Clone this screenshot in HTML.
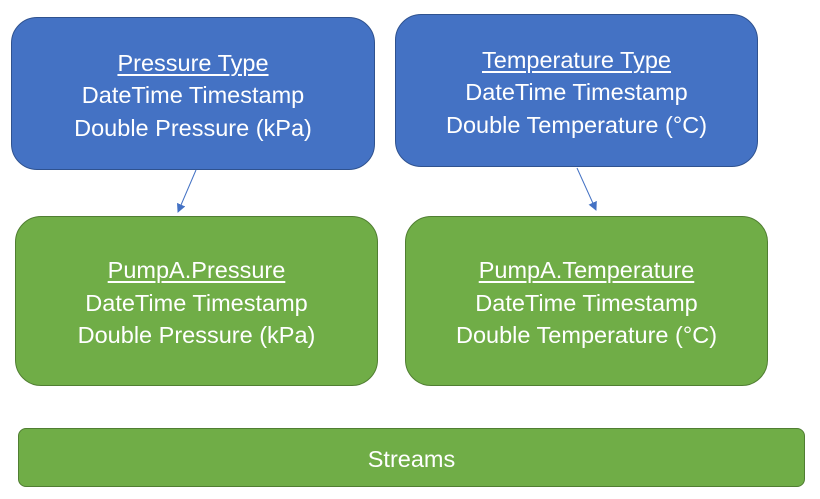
<!DOCTYPE html>
<html><head><style>
body{margin:0;width:820px;height:499px;background:#fff;position:relative;font-family:"Liberation Sans",sans-serif;overflow:hidden}
.b{position:absolute;box-sizing:border-box;border-radius:26px;color:#fff;display:flex;flex-direction:column;justify-content:center;align-items:center;font-size:23.5px;line-height:32.5px;text-align:center;padding-top:4px}
.bl{background:#4472C4;border:1.5px solid #2F528F}
.gr{background:#70AD47;border:1.5px solid #507E32}
u{text-decoration-thickness:1.5px;text-underline-offset:3px}
</style></head><body>
<div class="b bl" style="left:11px;top:17px;width:364px;height:153px"><u>Pressure Type</u><div>DateTime Timestamp</div><div>Double Pressure (kPa)</div></div>
<div class="b bl" style="left:395px;top:14px;width:363px;height:153px"><u>Temperature Type</u><div>DateTime Timestamp</div><div>Double Temperature (°C)</div></div>
<div class="b gr" style="left:15px;top:216px;width:363px;height:170px"><u>PumpA.Pressure</u><div>DateTime Timestamp</div><div>Double Pressure (kPa)</div></div>
<div class="b gr" style="left:405px;top:216px;width:363px;height:170px"><u>PumpA.Temperature</u><div>DateTime Timestamp</div><div>Double Temperature (°C)</div></div>
<div class="b gr" style="left:18px;top:428px;width:787px;height:59px;border-radius:8px">Streams</div>
<svg width="820" height="499" style="position:absolute;left:0;top:0">
<defs><marker id="a" markerWidth="9" markerHeight="9" refX="8" refY="4.5" orient="auto" markerUnits="userSpaceOnUse"><path d="M0,0L9,4.5L0,9z" fill="#4472C4"/></marker></defs>
<line x1="196" y1="170" x2="178" y2="212" stroke="#4472C4" stroke-width="1" marker-end="url(#a)"/>
<line x1="577" y1="168" x2="596" y2="210" stroke="#4472C4" stroke-width="1" marker-end="url(#a)"/>
</svg>
</body></html>
